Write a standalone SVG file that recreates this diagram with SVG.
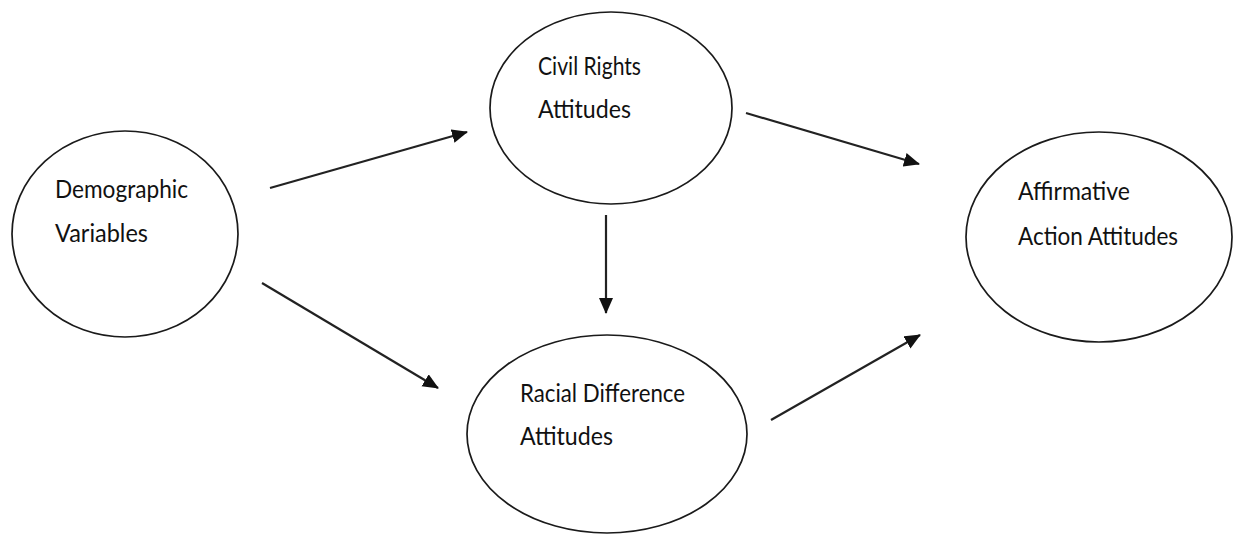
<svg xmlns="http://www.w3.org/2000/svg" width="1235" height="534" viewBox="0 0 1235 534">
  <style>
    .node ellipse { fill: #ffffff; stroke: #1a1a1a; stroke-width: 1.7; }
    .node text { font-family: Lato, "Open Sans", "Liberation Sans", sans-serif; font-size: 25px; fill: #111111; }
    .links line { stroke: #222222; stroke-width: 2.2; marker-end: url(#arrow); }
  </style>
  <defs>
    <marker id="arrow" markerUnits="userSpaceOnUse" markerWidth="17" markerHeight="15" refX="15" refY="7" orient="auto">
      <path d="M0,0 L16,7 L0,14 Z" fill="#111111"/>
    </marker>
  </defs>
  <rect width="1235" height="534" fill="#ffffff"/>

  <g id="demographic" class="node">
    <ellipse cx="125" cy="234" rx="113" ry="103"/>
    <text x="55" y="198" textLength="133" lengthAdjust="spacingAndGlyphs">Demographic</text>
    <text x="55" y="242" textLength="93" lengthAdjust="spacingAndGlyphs">Variables</text>
  </g>

  <g id="civil-rights" class="node">
    <ellipse cx="611" cy="108" rx="121" ry="96"/>
    <text x="538" y="75" textLength="103" lengthAdjust="spacingAndGlyphs">Civil Rights</text>
    <text x="538" y="118" textLength="93" lengthAdjust="spacingAndGlyphs">Attitudes</text>
  </g>

  <g id="racial-difference" class="node">
    <ellipse cx="607" cy="434" rx="140" ry="99"/>
    <text x="520" y="402" textLength="165" lengthAdjust="spacingAndGlyphs">Racial Difference</text>
    <text x="520" y="445" textLength="93" lengthAdjust="spacingAndGlyphs">Attitudes</text>
  </g>

  <g id="affirmative-action" class="node">
    <ellipse cx="1099" cy="237" rx="133" ry="105"/>
    <text x="1018" y="200" textLength="112" lengthAdjust="spacingAndGlyphs">Affirmative</text>
    <text x="1018" y="245" textLength="160" lengthAdjust="spacingAndGlyphs">Action Attitudes</text>
  </g>

  <g id="connectors" class="links">
    <line x1="270" y1="188" x2="467" y2="132"/>
    <line x1="262" y1="283" x2="438" y2="388"/>
    <line x1="606" y1="215" x2="606" y2="313"/>
    <line x1="746" y1="113" x2="919" y2="164"/>
    <line x1="771" y1="420" x2="920" y2="335"/>
  </g>
</svg>
